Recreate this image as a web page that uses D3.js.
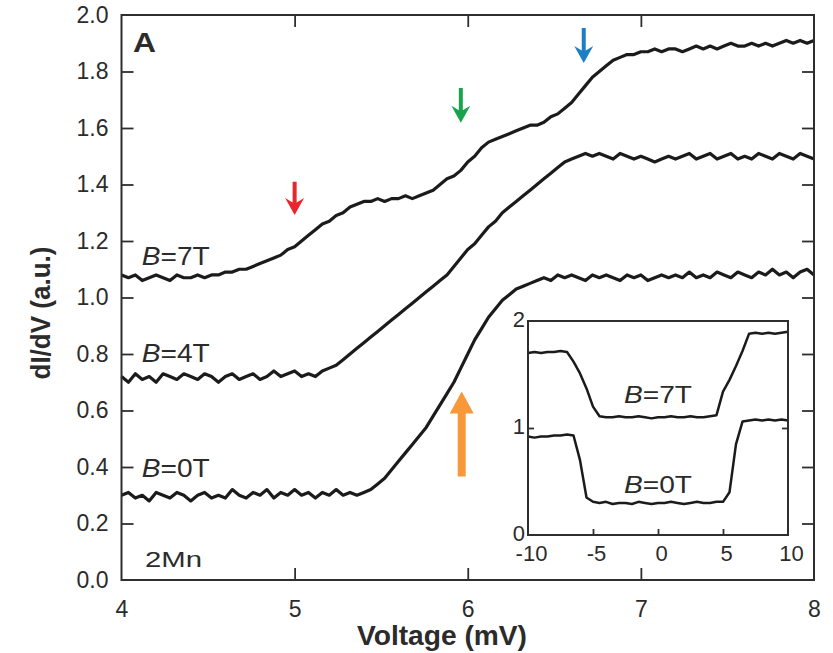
<!DOCTYPE html>
<html>
<head>
<meta charset="utf-8">
<script src="https://cdn.jsdelivr.net/npm/d3@7"></script>
<style>
  html, body { margin: 0; padding: 0; background: #fff; }
  svg text { font-family: "Liberation Sans", Arial, Helvetica, sans-serif; fill: #2b2b2b; }
</style>
</head>
<body>
<svg id="chart" width="833" height="653"></svg>
<script>
// ---------------- DATA ----------------
// sampling grid of the main panel (mV)
const voltage = d3.range(101).map(i => Math.round((4 + 0.04 * i) * 100) / 100);

const didv7T = [
  1.08, 1.07, 1.08, 1.06, 1.07, 1.08, 1.07, 1.06, 1.08, 1.07,
  1.07, 1.08, 1.07, 1.08, 1.08, 1.09, 1.09, 1.10, 1.10, 1.11,
  1.12, 1.13, 1.14, 1.15, 1.17, 1.18, 1.20, 1.22, 1.24, 1.26,
  1.27, 1.29, 1.30, 1.32, 1.33, 1.34, 1.34, 1.35, 1.34, 1.35,
  1.35, 1.36, 1.35, 1.36, 1.37, 1.38, 1.40, 1.42, 1.43, 1.45,
  1.48, 1.50, 1.53, 1.55, 1.56, 1.57, 1.58, 1.59, 1.60, 1.61,
  1.61, 1.62, 1.64, 1.65, 1.67, 1.69, 1.72, 1.75, 1.78, 1.80,
  1.82, 1.84, 1.85, 1.86, 1.86, 1.87, 1.87, 1.88, 1.87, 1.88,
  1.88, 1.87, 1.88, 1.89, 1.88, 1.89, 1.88, 1.89, 1.90, 1.89,
  1.89, 1.90, 1.89, 1.90, 1.89, 1.90, 1.91, 1.90, 1.91, 1.90,
  1.91
];

const didv4T = [
  0.72, 0.70, 0.73, 0.71, 0.72, 0.70, 0.73, 0.72, 0.71, 0.73,
  0.72, 0.71, 0.73, 0.72, 0.70, 0.72, 0.73, 0.71, 0.72, 0.73,
  0.71, 0.72, 0.74, 0.72, 0.73, 0.74, 0.72, 0.73, 0.72, 0.74,
  0.75, 0.76, 0.78, 0.80, 0.82, 0.84, 0.86, 0.88, 0.90, 0.92,
  0.94, 0.96, 0.98, 1.00, 1.02, 1.04, 1.06, 1.08, 1.11, 1.14,
  1.17, 1.19, 1.22, 1.25, 1.27, 1.30, 1.32, 1.34, 1.36, 1.38,
  1.40, 1.42, 1.44, 1.46, 1.48, 1.49, 1.50, 1.51, 1.50, 1.51,
  1.50, 1.49, 1.51, 1.50, 1.49, 1.50, 1.49, 1.48, 1.49, 1.50,
  1.49, 1.50, 1.51, 1.49, 1.50, 1.51, 1.49, 1.50, 1.51, 1.49,
  1.50, 1.49, 1.51, 1.50, 1.49, 1.51, 1.50, 1.49, 1.51, 1.50,
  1.49
];

const didv0T = [
  0.30, 0.31, 0.29, 0.30, 0.28, 0.31, 0.30, 0.29, 0.31, 0.30,
  0.28, 0.30, 0.31, 0.29, 0.30, 0.29, 0.32, 0.30, 0.29, 0.31,
  0.30, 0.32, 0.29, 0.31, 0.30, 0.32, 0.30, 0.31, 0.29, 0.31,
  0.30, 0.32, 0.30, 0.31, 0.30, 0.31, 0.32, 0.34, 0.36, 0.39,
  0.42, 0.45, 0.48, 0.51, 0.54, 0.58, 0.62, 0.66, 0.70, 0.75,
  0.80, 0.85, 0.89, 0.93, 0.96, 0.99, 1.01, 1.03, 1.04, 1.05,
  1.06, 1.07, 1.06, 1.08, 1.07, 1.08, 1.07, 1.06, 1.08, 1.07,
  1.08, 1.07, 1.06, 1.08, 1.07, 1.08, 1.06, 1.07, 1.08, 1.07,
  1.08, 1.07, 1.09, 1.07, 1.08, 1.07, 1.09, 1.08, 1.07, 1.09,
  1.08, 1.07, 1.09, 1.08, 1.10, 1.08, 1.09, 1.07, 1.09, 1.10,
  1.08
];

// inset: full bias range (mV)
const bias = d3.range(41).map(i => -10 + 0.5 * i);
const inset7T = [
  1.70, 1.71, 1.70, 1.71, 1.71, 1.72, 1.71, 1.62, 1.51, 1.37,
  1.20, 1.11, 1.10, 1.10, 1.11, 1.10, 1.10, 1.11, 1.10, 1.09,
  1.10, 1.10, 1.11, 1.10, 1.10, 1.11, 1.10, 1.10, 1.11, 1.12,
  1.34, 1.45, 1.58, 1.72, 1.88, 1.89, 1.88, 1.89, 1.88, 1.89,
  1.90
];
const inset0T = [
  0.92, 0.91, 0.92, 0.92, 0.93, 0.93, 0.94, 0.93, 0.70, 0.35,
  0.31, 0.30, 0.31, 0.29, 0.30, 0.30, 0.29, 0.31, 0.30, 0.29,
  0.30, 0.30, 0.31, 0.30, 0.29, 0.30, 0.31, 0.30, 0.30, 0.31,
  0.31, 0.40, 0.85, 1.06, 1.07, 1.08, 1.07, 1.08, 1.07, 1.08,
  1.07
];

const xTicks = [4, 5, 6, 7, 8];
const yTicks = [0, 0.2, 0.4, 0.6, 0.8, 1.0, 1.2, 1.4, 1.6, 1.8, 2.0];
const insetXTicks = [-10, -5, 0, 5, 10];
const insetYTicks = [0, 1, 2];
const fieldLabels = ["7T", "4T", "0T"];

// spectral features marked with arrows (mV, dI/dV from -> to)
const arrowV    = [5.00, 5.96, 6.67];
const arrowFrom = [1.41, 1.742, 1.954];
const arrowTo   = [1.292, 1.619, 1.830];
const upArrowV = 5.965, upArrowTip = 0.667, upArrowTail = 0.366;

// ---------------- STYLE / LAYOUT ----------------
const arrowColors = ["#e8262c", "#19a34c", "#1c7fc6"];
const upArrowColor = "#f7983a";
const ink = "#1b1b1b";
const frame = "#2e2e2e";

const svg = d3.select("#chart");
const x = d3.scaleLinear().domain([4, 8]).range([121.5, 814]);
const y = d3.scaleLinear().domain([0, 2]).range([580, 15]);

const line = d3.line().x((d, i) => x(voltage[i])).y(d => y(d));

// curves
[didv7T, didv4T, didv0T].forEach(s => {
  svg.append("path").datum(s).attr("d", line)
    .attr("fill", "none").attr("stroke", ink)
    .attr("stroke-width", 3.2).attr("stroke-linejoin", "round");
});

// axes (ticks inward on all sides)
function styleAxis(g) {
  g.select(".domain").remove();
  g.selectAll(".tick line").attr("stroke", frame).attr("stroke-width", 1.8);
  g.selectAll("text").attr("fill", "#2b2b2b").style("font-size", "23px")
    .style("font-family", '"Liberation Sans", Arial, sans-serif');
}
const inner = xTicks.slice(1, -1);
const innerY = yTicks.slice(1, -1);
const plain = d => String(d);

svg.append("g").attr("transform", `translate(0,${y(0)})`)
  .call(d3.axisBottom(x).tickValues(inner).tickSizeInner(-12).tickSizeOuter(0).tickFormat(""))
  .call(styleAxis);
svg.append("g").attr("transform", `translate(0,${y(0)})`)
  .call(d3.axisBottom(x).tickValues(xTicks).tickSize(0).tickPadding(21).tickFormat(plain))
  .call(styleAxis);
svg.append("g").attr("transform", `translate(0,${y(2)})`)
  .call(d3.axisTop(x).tickValues(inner).tickSizeInner(-12).tickSizeOuter(0).tickFormat(""))
  .call(styleAxis);
svg.append("g").attr("transform", `translate(${x(4)},0)`)
  .call(d3.axisLeft(y).tickValues(innerY).tickSizeInner(-12).tickSizeOuter(0).tickFormat(""))
  .call(styleAxis);
svg.append("g").attr("transform", `translate(${x(4)},0)`)
  .call(d3.axisLeft(y).tickValues(yTicks).tickSize(0).tickPadding(13).tickFormat(d3.format(".1f")))
  .call(styleAxis);
svg.append("g").attr("transform", `translate(${x(8)},0)`)
  .call(d3.axisRight(y).tickValues(innerY).tickSizeInner(-12).tickSizeOuter(0).tickFormat(""))
  .call(styleAxis);

svg.append("rect").attr("x", x(4)).attr("y", y(2))
  .attr("width", x(8) - x(4)).attr("height", y(0) - y(2))
  .attr("fill", "none").attr("stroke", frame).attr("stroke-width", 2);

// axis titles
svg.append("text").attr("x", 442).attr("y", 645)
  .attr("text-anchor", "middle").attr("font-weight", "bold").attr("font-size", 28)
  .attr("textLength", 170).attr("lengthAdjust", "spacingAndGlyphs")
  .text("Voltage (mV)");
svg.append("text").attr("transform", "translate(50,313) rotate(-90)")
  .attr("text-anchor", "middle").attr("font-weight", "bold").attr("font-size", 27)
  .attr("textLength", 133).attr("lengthAdjust", "spacingAndGlyphs")
  .text("dI/dV (a.u.)");

// panel letter and sample label
svg.append("text").attr("x", x(4.066)).attr("y", y(1.869))
  .attr("font-weight", "bold").attr("font-size", 27).attr("fill", "#222")
  .attr("textLength", 23).attr("lengthAdjust", "spacingAndGlyphs").text("A");
svg.append("text").attr("x", x(4.136)).attr("y", y(0.046))
  .attr("font-size", 22).attr("textLength", 57).attr("lengthAdjust", "spacingAndGlyphs").text("2Mn");

// field labels on main panel
const labelY = [1.115, 0.772, 0.366];
fieldLabels.forEach((f, i) => {
  const t = svg.append("text").attr("x", x(4.117)).attr("y", y(labelY[i]))
    .attr("font-size", 25).attr("textLength", 68).attr("lengthAdjust", "spacingAndGlyphs");
  t.append("tspan").attr("font-style", "italic").text("B");
  t.append("tspan").text("=" + f);
});

// arrows
arrowV.forEach((v, i) => {
  const x0 = x(v), yt = y(arrowTo[i]), yf = y(arrowFrom[i]);
  const len = yt - yf;
  svg.append("path")
    .attr("transform", `translate(${x0},${yt})`)
    .attr("d", `M0,0 L-9.5,-17 L-2,-12.5 L-2,${-len} L2,${-len} L2,-12.5 L9.5,-17 Z`)
    .attr("fill", arrowColors[i]);
});
{
  const x0 = x(upArrowV), yt = y(upArrowTip), yb = y(upArrowTail);
  const len = yb - yt;
  svg.append("path")
    .attr("transform", `translate(${x0},${yt})`)
    .attr("d", `M0,0 L12,22 L4,22 L4,${len} L-4,${len} L-4,22 L-12,22 Z`)
    .attr("fill", upArrowColor);
}

// ---------------- INSET ----------------
const ix = d3.scaleLinear().domain([-10, 10]).range([528, 788]);
const iy = d3.scaleLinear().domain([0, 2]).range([535, 321]);
svg.append("rect").attr("x", ix(-10)).attr("y", iy(2))
  .attr("width", ix(10) - ix(-10)).attr("height", iy(0) - iy(2))
  .attr("fill", "#fff").attr("stroke", "none");

const iline = d3.line().x((d, i) => ix(bias[i])).y(d => iy(d));
[inset7T, inset0T].forEach(s => {
  svg.append("path").datum(s).attr("d", iline)
    .attr("fill", "none").attr("stroke", ink)
    .attr("stroke-width", 2.5).attr("stroke-linejoin", "round");
});

svg.append("g").attr("transform", `translate(0,${iy(0)})`)
  .call(d3.axisBottom(ix).tickValues(insetXTicks.slice(1, -1)).tickSizeInner(-6).tickSizeOuter(0).tickFormat(""))
  .call(styleAxis);
svg.append("g").attr("transform", `translate(3,${iy(0)})`)
  .call(d3.axisBottom(ix).tickValues(insetXTicks).tickSize(0).tickPadding(10).tickFormat(plain))
  .call(styleAxis)
  .call(g => g.selectAll("text").style("font-size", "22px"));
svg.append("g").attr("transform", `translate(${ix(-10)},0)`)
  .call(d3.axisLeft(iy).tickValues([1]).tickSizeInner(-6).tickSizeOuter(0).tickFormat(""))
  .call(styleAxis);
svg.append("g").attr("transform", `translate(${ix(10)},0)`)
  .call(d3.axisRight(iy).tickValues([1]).tickSizeInner(-6).tickSizeOuter(0).tickFormat(""))
  .call(styleAxis);
svg.append("g").attr("transform", `translate(${ix(-10)},-2)`)
  .call(d3.axisLeft(iy).tickValues(insetYTicks).tickSize(0).tickPadding(3).tickFormat(plain))
  .call(styleAxis)
  .call(g => g.selectAll("text").style("font-size", "22px"));

svg.append("rect").attr("x", ix(-10)).attr("y", iy(2))
  .attr("width", ix(10) - ix(-10)).attr("height", iy(0) - iy(2))
  .attr("fill", "none").attr("stroke", frame).attr("stroke-width", 2);

const insetLabelY = [1.234, 0.395];
["7T", "0T"].forEach((f, i) => {
  const t = svg.append("text").attr("x", ix(-2.615)).attr("y", iy(insetLabelY[i]))
    .attr("font-size", 24).attr("textLength", 68).attr("lengthAdjust", "spacingAndGlyphs");
  t.append("tspan").attr("font-style", "italic").text("B");
  t.append("tspan").text("=" + f);
});
</script>
</body>
</html>
